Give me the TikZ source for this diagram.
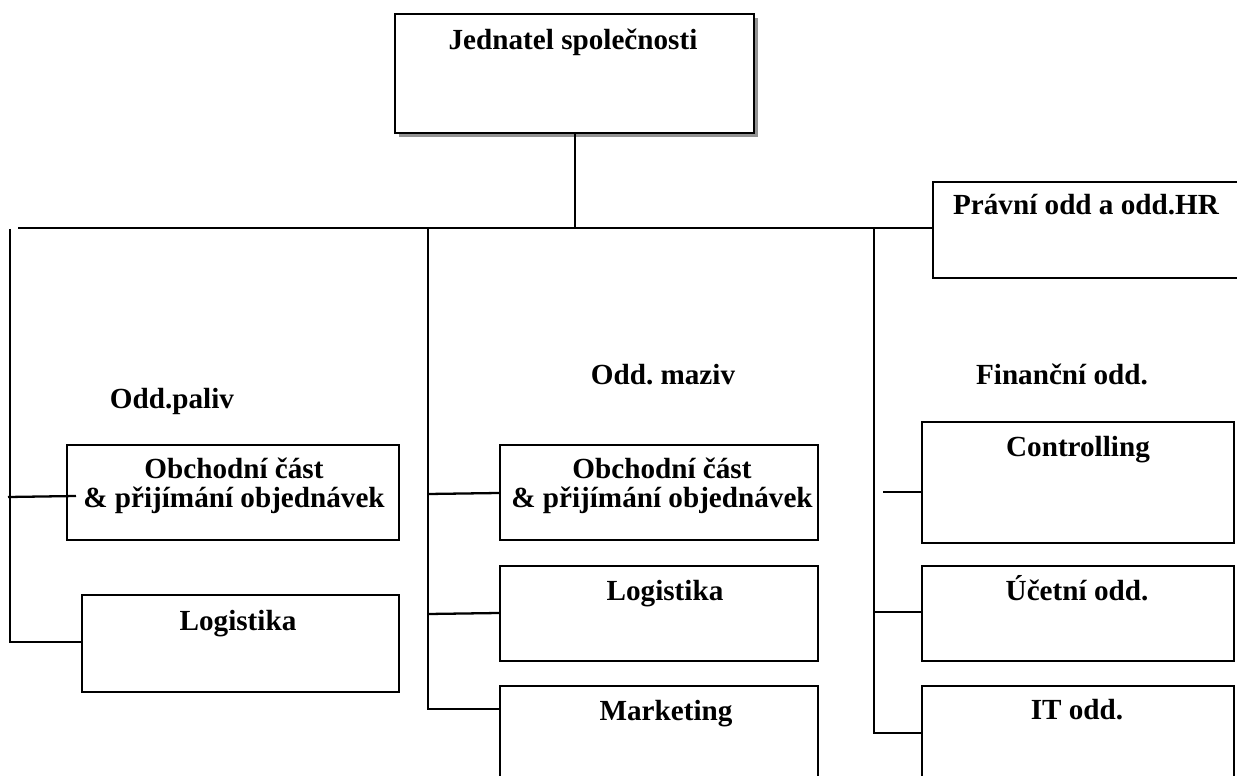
\documentclass[tikz,border=0pt]{standalone}
\usepackage{fontspec}
\setmainfont{Liberation Serif}
\frenchspacing
\begin{document}
\begin{tikzpicture}[x=0.02cm,y=-0.02cm,
  line width=1.3pt,
  unitbox/.style={draw=black, fill=white, inner sep=0pt, anchor=north west},
  lbl/.style={font=\fontsize{16.6}{16}\selectfont\bfseries, anchor=base, align=center, inner sep=0pt},
  wire/.style={draw=black, line width=1.3pt}]
\useasboundingbox (0,0) rectangle (1237,776);
\clip (0,0) rectangle (1237,776);

% ---- boxes ----
% top box with its shadow
\fill[gray!85] (399,18) rectangle (758,137);
\node[unitbox, minimum width=359*0.02cm, minimum height=119*0.02cm] (ceo) at (394,13) {};
% legal / HR box, open to the right edge
\node[unitbox, minimum width=320*0.02cm, minimum height=96*0.02cm] (hr) at (932,181) {};
% fuels column
\node[unitbox, minimum width=332*0.02cm, minimum height=95*0.02cm] (p1) at (66,444) {};
\node[unitbox, minimum width=317*0.02cm, minimum height=97*0.02cm] (p2) at (81,594) {};
% lubricants column
\node[unitbox, minimum width=318*0.02cm, minimum height=95*0.02cm] (m1) at (499,444) {};
\node[unitbox, minimum width=318*0.02cm, minimum height=95*0.02cm] (m2) at (499,565) {};
\node[unitbox, minimum width=318*0.02cm, minimum height=100*0.02cm] (m3) at (499,685) {};
% finance column
\node[unitbox, minimum width=312*0.02cm, minimum height=121*0.02cm] (f1) at (921,421) {};
\node[unitbox, minimum width=312*0.02cm, minimum height=95*0.02cm] (f2) at (921,565) {};
\node[unitbox, minimum width=312*0.02cm, minimum height=100*0.02cm] (f3) at (921,685) {};

% ---- connectors ----
\coordinate (busL) at (18,228);
\coordinate (busJ) at (ceo.south |- busL);
\draw[wire] (ceo.south) -- (busJ);
\draw[wire] (busL) -- (hr.west |- busL);

\coordinate (pTop) at (10,229);
\coordinate (pBot) at (10,642);
\coordinate (p1a) at (8,497);
\coordinate (p1b) at (76,496);
\draw[wire] (pTop) -- (pBot) -- (p2.west |- pBot);
\draw[wire] (p1a) -- (p1b);

\coordinate (mTop) at (428,228);
\coordinate (mBot) at (428,709);
\draw[wire] (mTop) -- (mBot) -- (m3.west |- mBot);
\draw[wire] (428,494) -- (m1.west |- 0,493);
\draw[wire] (428,614) -- (m2.west |- 0,613);

\coordinate (fTop) at (874,228);
\coordinate (fBot) at (874,733);
\coordinate (f1a) at (883,492);
\draw[wire] (fTop) -- (fBot) -- (f3.west |- fBot);
\draw[wire] (874,612) -- (f2.west |- 0,612);
\draw[wire] (f1a) -- (f1.west |- f1a);

% ---- texts ----
\node[lbl] (ceoT) at (573,50) {Jednatel společnosti};
\node[lbl] (hrT) at (1086,215) {Právní odd a odd.HR};
\node[lbl] (palT) at (172,409) {Odd.paliv};
\node[lbl] (mazT) at (663,385) {Odd. maziv};
\node[lbl] (finT) at (1062,385) {Finanční odd.};
\node[lbl] (p1T) at (234,507) {Obchodní část\\ \& přijímání objednávek};
\node[lbl] (p2T) at (238,630) {Logistika};
\node[lbl] (m1T) at (662,507) {Obchodní část\\ \& přijímání objednávek};
\node[lbl] (m2T) at (665,600) {Logistika};
\node[lbl] (m3T) at (666,720) {Marketing};
\node[lbl] (f1T) at (1078,457) {Controlling};
\node[lbl] (f2T) at (1077,600) {Účetní odd.};
\node[lbl] (f3T) at (1077,719) {IT odd.};
\end{tikzpicture}
\end{document}
